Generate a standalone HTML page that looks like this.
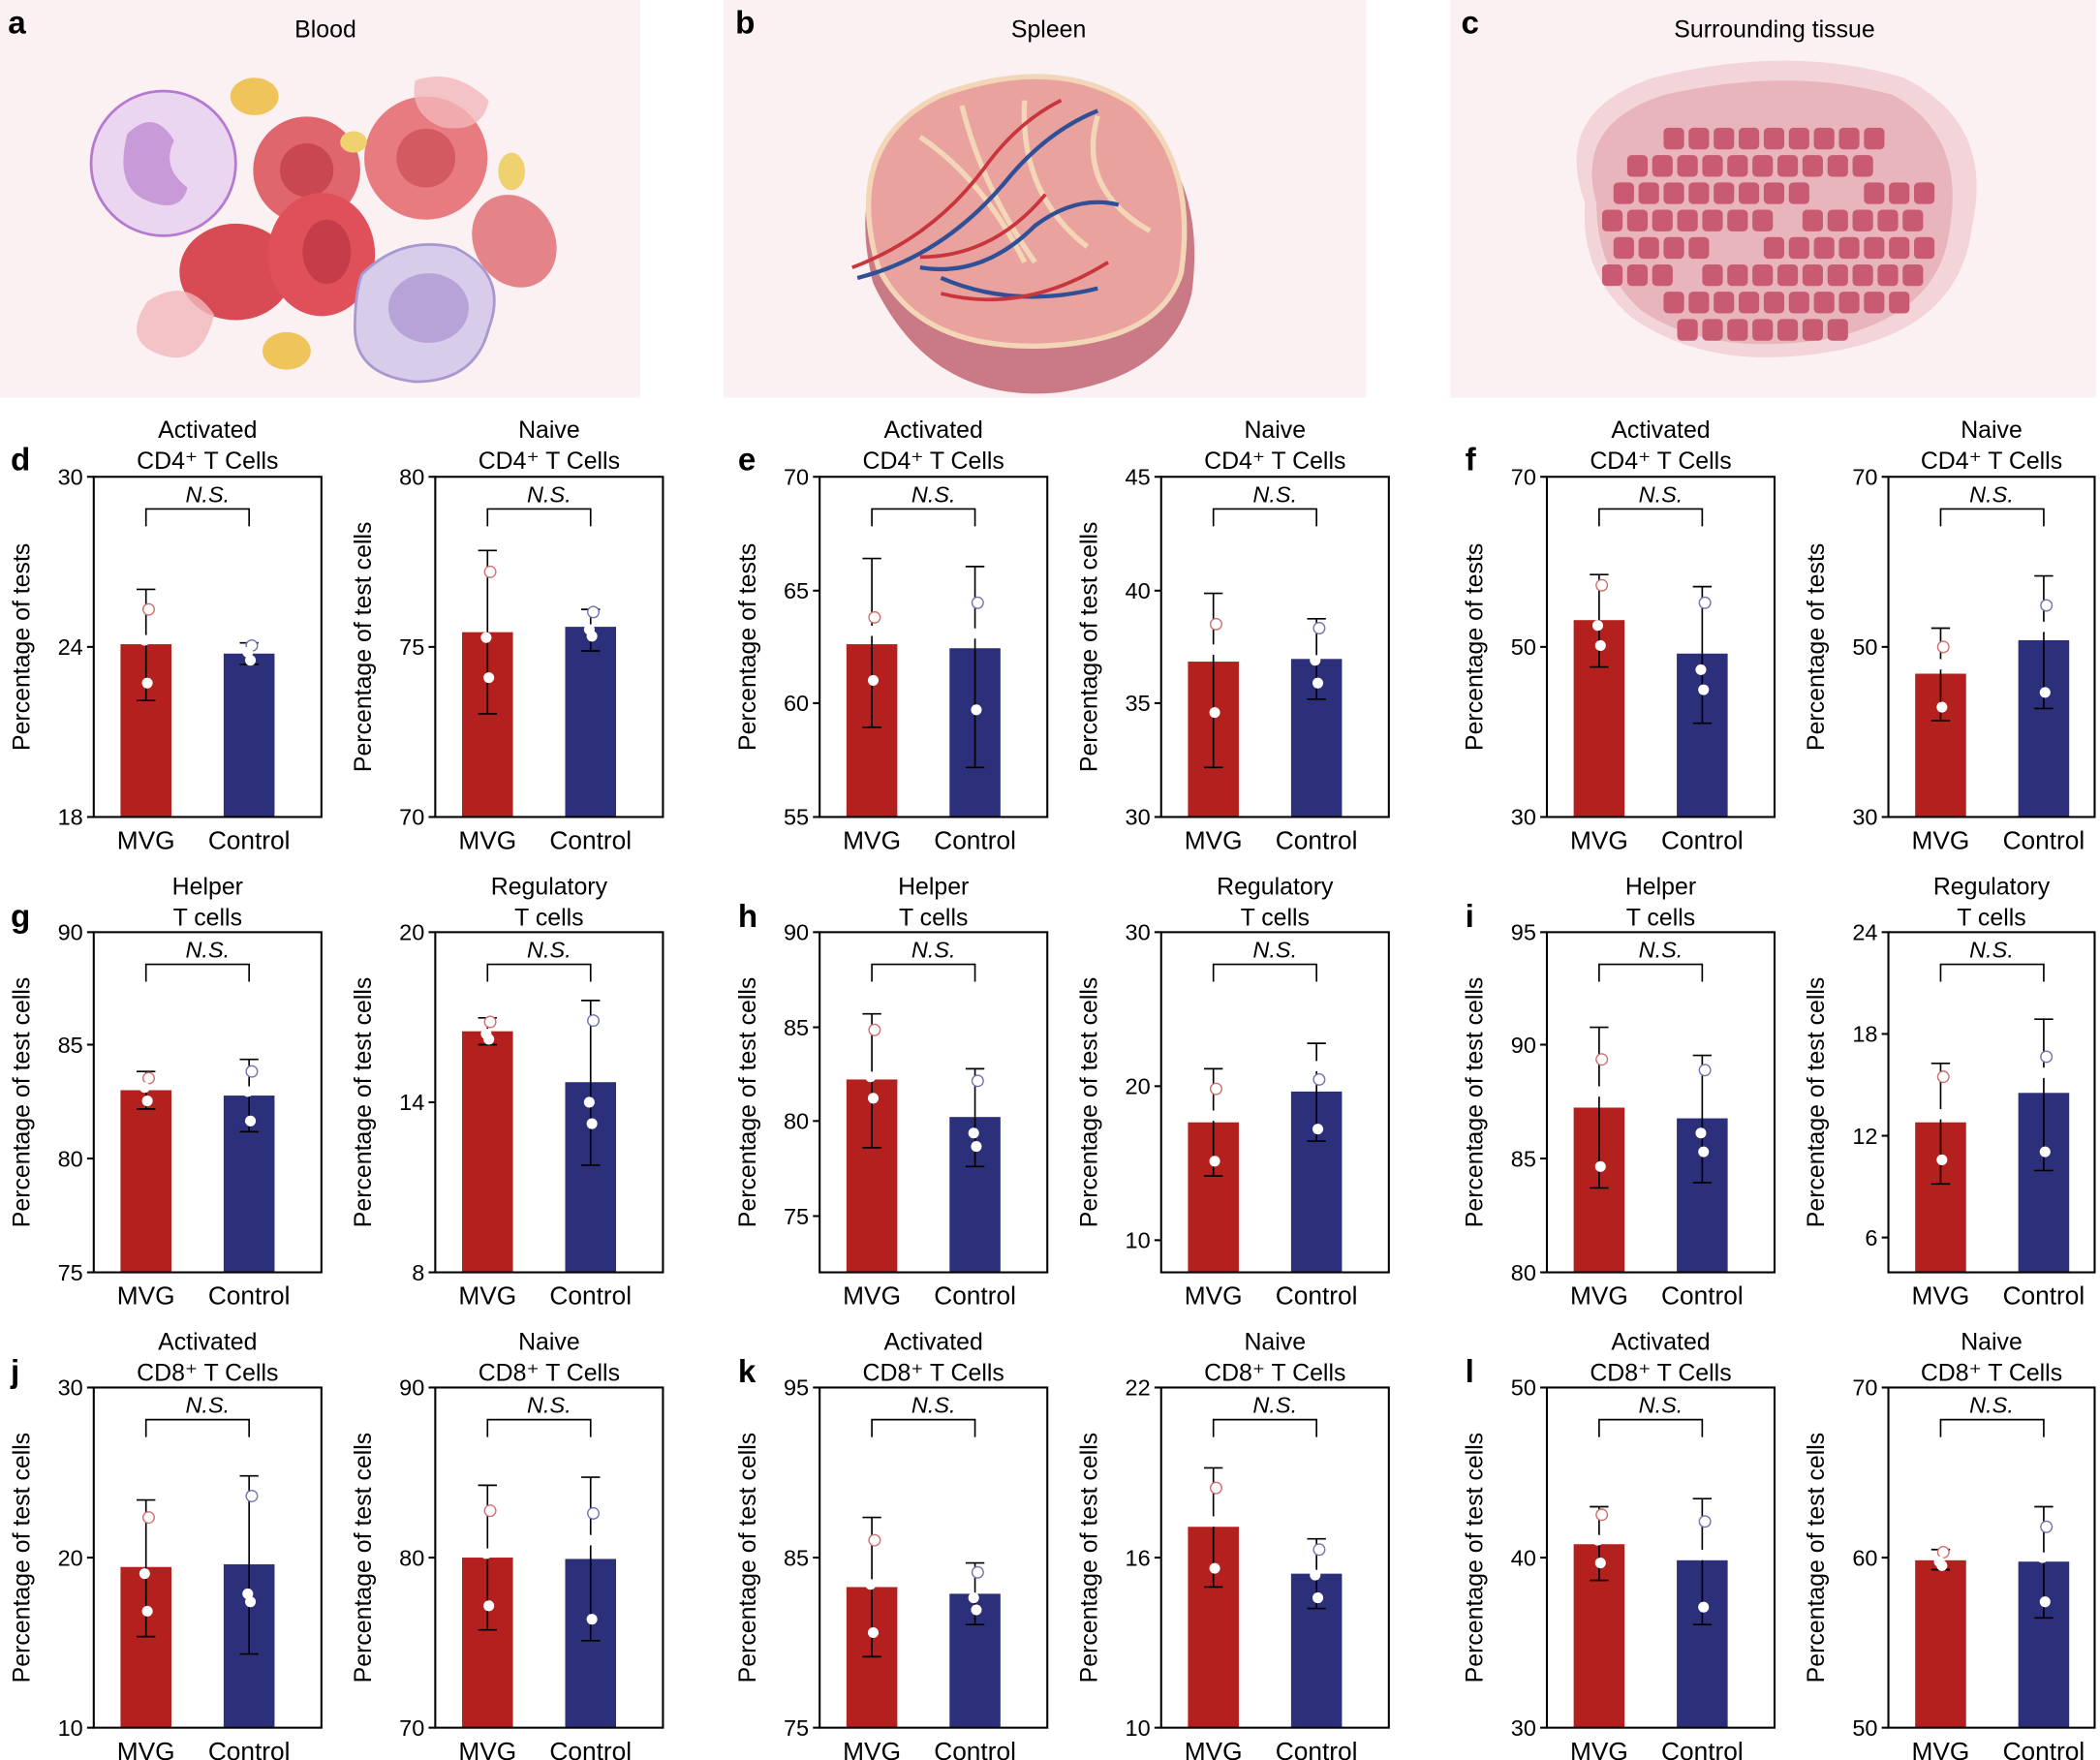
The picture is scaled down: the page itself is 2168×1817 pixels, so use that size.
<!DOCTYPE html>
<html><head><meta charset="utf-8">
<style>
html,body{margin:0;padding:0;background:#fff;}
svg{display:block;font-family:"Liberation Sans",Arial,sans-serif;}
</style></head>
<body>
<svg id="s" width="2168" height="1817" viewBox="0 0 1568 1314.1" xmlns="http://www.w3.org/2000/svg">
<rect width="1568" height="1315" fill="#fff"/>
<rect x="0" y="0" width="478" height="297" fill="#fbf1f3"/>
<rect x="540" y="0" width="480" height="297" fill="#fbf1f3"/>
<rect x="1083" y="0" width="482" height="297" fill="#fbf1f3"/>
<text x="6" y="25" font-size="24" font-weight="bold">a</text>
<text x="243" y="28" font-size="18" text-anchor="middle">Blood</text>
<text x="549" y="25" font-size="24" font-weight="bold">b</text>
<text x="783" y="28" font-size="18" text-anchor="middle">Spleen</text>
<text x="1091" y="25" font-size="24" font-weight="bold">c</text>
<text x="1325" y="28" font-size="18" text-anchor="middle">Surrounding tissue</text>
<circle cx="122" cy="122" r="54" fill="#ead6f0" stroke="#b57ad0" stroke-width="2"/>
<path d="M95 100 q20 -20 35 5 q-10 20 10 35 q-5 20 -30 10 q-25 -10 -15 -50z" fill="#c99ad8"/>
<circle cx="229" cy="127" r="40" fill="#e0666e"/><circle cx="229" cy="127" r="20" fill="#c9474f"/>
<circle cx="318" cy="118" r="46" fill="#e87b7f"/><circle cx="318" cy="118" r="22" fill="#d25a60"/>
<ellipse cx="176" cy="203" rx="42" ry="36" fill="#d84b55"/>
<ellipse cx="240" cy="190" rx="40" ry="46" fill="#e0505a"/><ellipse cx="244" cy="188" rx="18" ry="24" fill="#c53d48"/>
<ellipse cx="384" cy="180" rx="30" ry="36" fill="#e58488" transform="rotate(-30 384 180)"/>
<path d="M270 205 q30 -30 70 -20 q40 20 25 60 q-10 40 -55 40 q-45 -5 -45 -40 q0 -25 5 -40z" fill="#d8cceb" stroke="#a898cf" stroke-width="2"/>
<ellipse cx="320" cy="230" rx="30" ry="26" fill="#b8a3d9"/>
<ellipse cx="190" cy="72" rx="18" ry="14" fill="#efc45a"/>
<ellipse cx="214" cy="262" rx="18" ry="14" fill="#efc45a"/>
<ellipse cx="264" cy="106" rx="10" ry="8" fill="#efd170"/>
<ellipse cx="382" cy="128" rx="10" ry="14" fill="#efd170"/>
<path d="M110 225 q30 -20 50 10 q-10 40 -40 30 q-30 -10 -10 -40z" fill="#f2b8bc" opacity="0.8"/>
<path d="M310 60 q30 -10 55 15 q-5 25 -35 20 q-25 -10 -20 -35z" fill="#f2b8bc" opacity="0.8"/>
<g transform="translate(141 32) scale(0.78)">
<path d="M655 230 q-30 -120 60 -170 q110 -40 190 10 q70 60 55 170 q-20 80 -130 95 q-120 10 -175 -105z" fill="#c97a84"/>
<path d="M660 215 q-35 -120 60 -165 q110 -40 185 10 q60 55 45 160 q-20 65 -130 70 q-120 5 -160 -75z" fill="#eaa29e" stroke="#f3d6b8" stroke-width="5"/>
<path d="M700 90 q60 40 100 120 M740 60 q20 80 70 150 M800 55 q-5 90 60 140 M870 70 q-20 70 50 110" stroke="#f3d6b8" stroke-width="5" fill="none"/>
<path d="M640 225 q80 -20 140 -90 q40 -50 90 -70 M700 215 q60 10 110 -40 q40 -30 80 -20 M720 225 q70 30 150 10" stroke="#2f4f96" stroke-width="4" fill="none"/>
<path d="M635 215 q80 -30 130 -100 q30 -40 70 -60 M700 205 q70 0 120 -60 M720 240 q80 20 160 -30" stroke="#c9353d" stroke-width="3.5" fill="none"/>
</g>
<g transform="translate(172 24) scale(0.85)">
<path d="M1190 150 q-30 -80 60 -110 q120 -30 220 0 q80 40 60 130 q-10 90 -120 110 q-110 20 -180 -30 q-45 -40 -40 -100z" fill="#f3d4d8"/>
<path d="M1200 150 q-20 -70 60 -95 q110 -25 200 0 q65 35 50 120 q-10 75 -110 95 q-100 15 -160 -25 q-40 -35 -40 -95z" fill="#e8b5bc"/>
<g fill="#c85a72" id="cells"></g>
</g>
<g id="plots"></g>
</svg>
<script>
(function(){
var NS="http://www.w3.org/2000/svg";
function el(p,t,a,txt){var e=document.createElementNS(NS,t);for(var k in a)e.setAttribute(k,a[k]);if(txt!==undefined)e.textContent=txt;p.appendChild(e);return e;}
var cells=document.getElementById('cells');
for(var i=0;i<13;i++)for(var j=0;j<9;j++){var x=1205+i*22+(j%2)*10,y=60+j*24;
 var dx=x-1340,dy=y-165; if((dx*dx)/(150*150)+(dy*dy)/(105*105)<1 && Math.abs(dy+dx*0.55)>10) el(cells,'rect',{x:x,y:y,width:18,height:19,rx:4});}
var g=document.getElementById('plots');
var RED="#b3201d",BLUE="#2c307a";
var rows=[{top:356,bot:610,t1:320,t2:343},{top:696,bot:950,t1:661,t2:684},{top:1036,bot:1290,t1:1001,t2:1024}];
var axX=[70,325,612,867,1155,1410];
var axW=[170,170,170,170,170,154];
var letters=[["d","e","f"],["g","h","i"],["j","k","l"]];
var letX=[8,551,1094];
var P=[
[{t:["Activated","CD4⁺ T Cells"],yl:"Percentage of tests",ticks:[[18,610],[24,483],[30,356]],m:[481,440,523,[455,478,510]],c:[488,480,496,[482,487,493]]},
 {t:["Naive","CD4⁺ T Cells"],yl:"Percentage of test cells",ticks:[[70,610],[75,483],[80,356]],m:[472,411,533,[427,476,506]],c:[468,455,486,[457,470,475]]},
 {t:["Activated","CD4⁺ T Cells"],yl:"Percentage of tests",ticks:[[55,610],[60,525],[65,441],[70,356]],m:[481,417,543,[461,471,508]],c:[484,423,573,[450,473,530]]},
 {t:["Naive","CD4⁺ T Cells"],yl:"Percentage of test cells",ticks:[[30,610],[35,525],[40,441],[45,356]],m:[494,443,573,[466,485,532]],c:[492,462,522,[469,493,510]]},
 {t:["Activated","CD4⁺ T Cells"],yl:"Percentage of tests",ticks:[[30,610],[50,483],[70,356]],m:[463,429,498,[437,467,482]],c:[488,438,540,[450,500,515]]},
 {t:["Naive","CD4⁺ T Cells"],yl:"Percentage of tests",ticks:[[30,610],[50,483],[70,356]],m:[503,469,538,[483,496,528]],c:[478,430,529,[452,468,517]]}],
[{t:["Helper","T cells"],yl:"Percentage of test cells",ticks:[[75,950],[80,865],[85,780],[90,696]],m:[814,800,828,[805,812,822]],c:[818,791,845,[800,815,837]]},
 {t:["Regulatory","T cells"],yl:"Percentage of test cells",ticks:[[8,950],[14,823],[20,696]],m:[770,760,780,[763,772,776]],c:[808,747,870,[762,823,839]]},
 {t:["Helper","T cells"],yl:"Percentage of test cells",ticks:[[75,908],[80,837],[85,767],[90,696]],m:[806,757,857,[769,804,820]],c:[834,798,871,[807,846,856]]},
 {t:["Regulatory","T cells"],yl:"Percentage of test cells",ticks:[[10,926],[20,811],[30,696]],m:[838,798,878,[813,833,867]],c:[815,779,852,[806,796,843]]},
 {t:["Helper","T cells"],yl:"Percentage of test cells",ticks:[[80,950],[85,865],[90,780],[95,696]],m:[827,767,887,[791,815,871]],c:[835,788,883,[799,846,860]]},
 {t:["Regulatory","T cells"],yl:"Percentage of test cells",ticks:[[6,924],[12,848],[18,772],[24,696]],m:[838,794,884,[804,832,866]],c:[816,761,874,[789,801,860]]}],
[{t:["Activated","CD8⁺ T Cells"],yl:"Percentage of test cells",ticks:[[10,1290],[20,1163],[30,1036]],m:[1170,1120,1222,[1133,1175,1203]],c:[1168,1102,1235,[1117,1190,1196]]},
 {t:["Naive","CD8⁺ T Cells"],yl:"Percentage of test cells",ticks:[[70,1290],[80,1163],[90,1036]],m:[1163,1109,1217,[1128,1160,1199]],c:[1164,1103,1225,[1130,1150,1209]]},
 {t:["Activated","CD8⁺ T Cells"],yl:"Percentage of test cells",ticks:[[75,1290],[85,1163],[95,1036]],m:[1185,1133,1237,[1150,1183,1219]],c:[1190,1167,1213,[1174,1193,1202]]},
 {t:["Naive","CD8⁺ T Cells"],yl:"Percentage of test cells",ticks:[[10,1290],[16,1163],[22,1036]],m:[1140,1096,1185,[1111,1136,1171]],c:[1175,1149,1201,[1157,1176,1193]]},
 {t:["Activated","CD8⁺ T Cells"],yl:"Percentage of test cells",ticks:[[30,1290],[40,1163],[50,1036]],m:[1153,1125,1180,[1131,1150,1167]],c:[1165,1119,1213,[1136,1161,1200]]},
 {t:["Naive","CD8⁺ T Cells"],yl:"Percentage of test cells",ticks:[[50,1290],[60,1163],[70,1036]],m:[1165,1157,1172,[1159,1166,1169]],c:[1166,1125,1208,[1140,1163,1196]]}]
];
P.forEach(function(row,ri){
 var R=rows[ri];
 letters[ri].forEach(function(L,k){el(g,'text',{x:letX[k],y:R.t2+8,'font-size':24,'font-weight':'bold'},L);});
 row.forEach(function(p,pi){
  var x0=axX[pi],w=axW[pi],cx=x0+(pi==5?77:85);
  el(g,'text',{x:cx,y:R.t1+7,'font-size':18,'text-anchor':'middle'},p.t[0]);
  el(g,'text',{x:cx,y:R.t2+7,'font-size':18,'text-anchor':'middle'},p.t[1]);
  var ym=(R.top+R.bot)/2;
  el(g,'text',{x:0,y:0,'font-size':18,'text-anchor':'middle',transform:'translate('+(x0-48)+','+ym+') rotate(-90)'},p.yl);
  p.ticks.forEach(function(t){
   el(g,'line',{x1:x0-5,x2:x0,y1:t[1],y2:t[1],stroke:'#000','stroke-width':1.5});
   el(g,'text',{x:x0-8,y:t[1]+6,'font-size':17,'text-anchor':'end'},String(t[0]));
  });
  [[p.m,RED,x0+39],[p.c,BLUE,x0+116]].forEach(function(b){
   var d=b[0],col=b[1],bx=b[2];
   el(g,'rect',{x:bx-19,y:d[0],width:38,height:R.bot-d[0],fill:col});
   el(g,'line',{x1:bx,x2:bx,y1:d[1],y2:d[2],stroke:'#000','stroke-width':1.2});
   el(g,'line',{x1:bx-7,x2:bx+7,y1:d[1],y2:d[1],stroke:'#000','stroke-width':1.2});
   el(g,'line',{x1:bx-7,x2:bx+7,y1:d[2],y2:d[2],stroke:'#000','stroke-width':1.2});
   var offs=[2,-1,1];
   d[3].forEach(function(py,i){
     if(i==0) el(g,'circle',{cx:bx+offs[i],cy:py,r:4.2,fill:'#fff',stroke:(col==RED?'#d07070':'#7074b0'),'stroke-width':1});
     else el(g,'circle',{cx:bx+offs[i],cy:py,r:4,fill:'#fff'});
   });
   el(g,'text',{x:bx,y:R.bot+24,'font-size':19,'text-anchor':'middle'},col==RED?'MVG':'Control');
  });
  var by=R.top+24;
  el(g,'path',{d:'M'+(x0+39)+' '+(by+13)+' V'+by+' H'+(x0+116)+' V'+(by+13),fill:'none',stroke:'#000','stroke-width':1.2});
  el(g,'text',{x:cx,y:by-5,'font-size':17,'font-style':'italic','text-anchor':'middle'},'N.S.');
  el(g,'rect',{x:x0,y:R.top,width:w,height:R.bot-R.top,fill:'none',stroke:'#000','stroke-width':1.5});
 });
});
})();
</script>
</body></html>
